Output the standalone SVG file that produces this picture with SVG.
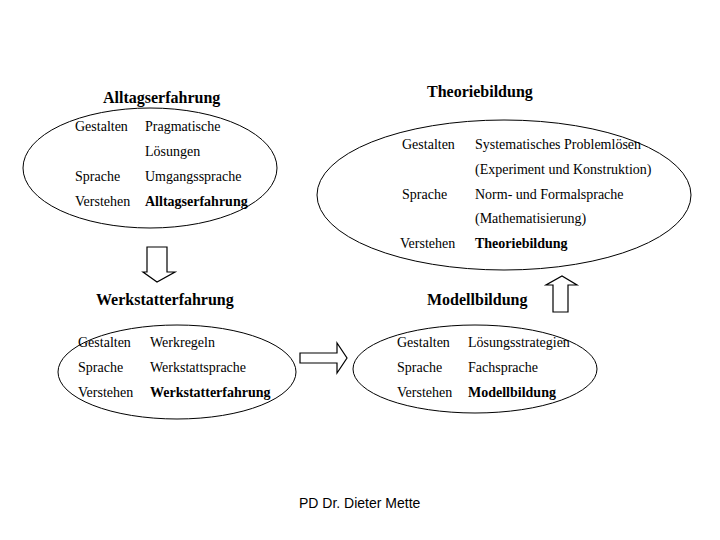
<svg xmlns="http://www.w3.org/2000/svg" width="720" height="540" viewBox="0 0 720 540">
<style>
.t{font-family:"Liberation Serif","Times New Roman",serif;font-size:14px;fill:#000}
.b{font-weight:bold}
.h{font-family:"Liberation Serif","Times New Roman",serif;font-size:16px;font-weight:bold;fill:#000}
.e{fill:none;stroke:#000;stroke-width:1}
.a{fill:#fff;stroke:#000;stroke-width:1.2}
.f{font-family:"Liberation Sans",Arial,sans-serif;font-size:14px;fill:#000}
</style>
<rect width="720" height="540" fill="#fff"/>
<g id="alltag">
<ellipse class="e" cx="150" cy="168" rx="127" ry="60"/>
<text class="h" x="103" y="103">Alltagserfahrung</text>
<text class="t" x="75" y="131">Gestalten</text>
<text class="t" x="145" y="131">Pragmatische</text>
<text class="t" x="145" y="156">Lösungen</text>
<text class="t" x="75" y="181">Sprache</text>
<text class="t" x="145" y="181">Umgangssprache</text>
<text class="t" x="75" y="206">Verstehen</text>
<text class="t b" x="145" y="206">Alltagserfahrung</text>
</g>
<g id="theorie">
<ellipse class="e" cx="504" cy="195" rx="187" ry="75"/>
<text class="h" x="427" y="97">Theoriebildung</text>
<text class="t" x="402" y="149">Gestalten</text>
<text class="t" x="475" y="149">Systematisches Problemlösen</text>
<text class="t" x="475" y="174">(Experiment und Konstruktion)</text>
<text class="t" x="402" y="199">Sprache</text>
<text class="t" x="475" y="199">Norm- und Formalsprache</text>
<text class="t" x="475" y="223">(Mathematisierung)</text>
<text class="t" x="400" y="248">Verstehen</text>
<text class="t b" x="475" y="248">Theoriebildung</text>
</g>
<g id="werkstatt">
<ellipse class="e" cx="177" cy="372" rx="119" ry="47"/>
<text class="h" x="96" y="305">Werkstatterfahrung</text>
<text class="t" x="78" y="347">Gestalten</text>
<text class="t" x="150" y="347">Werkregeln</text>
<text class="t" x="78" y="372">Sprache</text>
<text class="t" x="150" y="372">Werkstattsprache</text>
<text class="t" x="78" y="397">Verstehen</text>
<text class="t b" x="150" y="397">Werkstatterfahrung</text>
</g>
<g id="modell">
<ellipse class="e" cx="475" cy="369" rx="122" ry="44"/>
<text class="h" x="427" y="305">Modellbildung</text>
<text class="t" x="397" y="347">Gestalten</text>
<text class="t" x="468" y="347">Lösungsstrategien</text>
<text class="t" x="397" y="372">Sprache</text>
<text class="t" x="468" y="372">Fachsprache</text>
<text class="t" x="397" y="397">Verstehen</text>
<text class="t b" x="468" y="397">Modellbildung</text>
</g>
<g id="connectors">
<polygon class="a" points="147,247 167,247 167,272 175,272 157,282 143,272 147,272"/>
<polygon class="a" points="300,353 337,353 337,343 347,358 337,373 337,363 300,363"/>
<polygon class="a" points="553,312 568,312 568,285 577,285 562,276 546,285 553,285"/>
</g>
<text class="f" x="299" y="508">PD Dr. Dieter Mette</text>
</svg>
